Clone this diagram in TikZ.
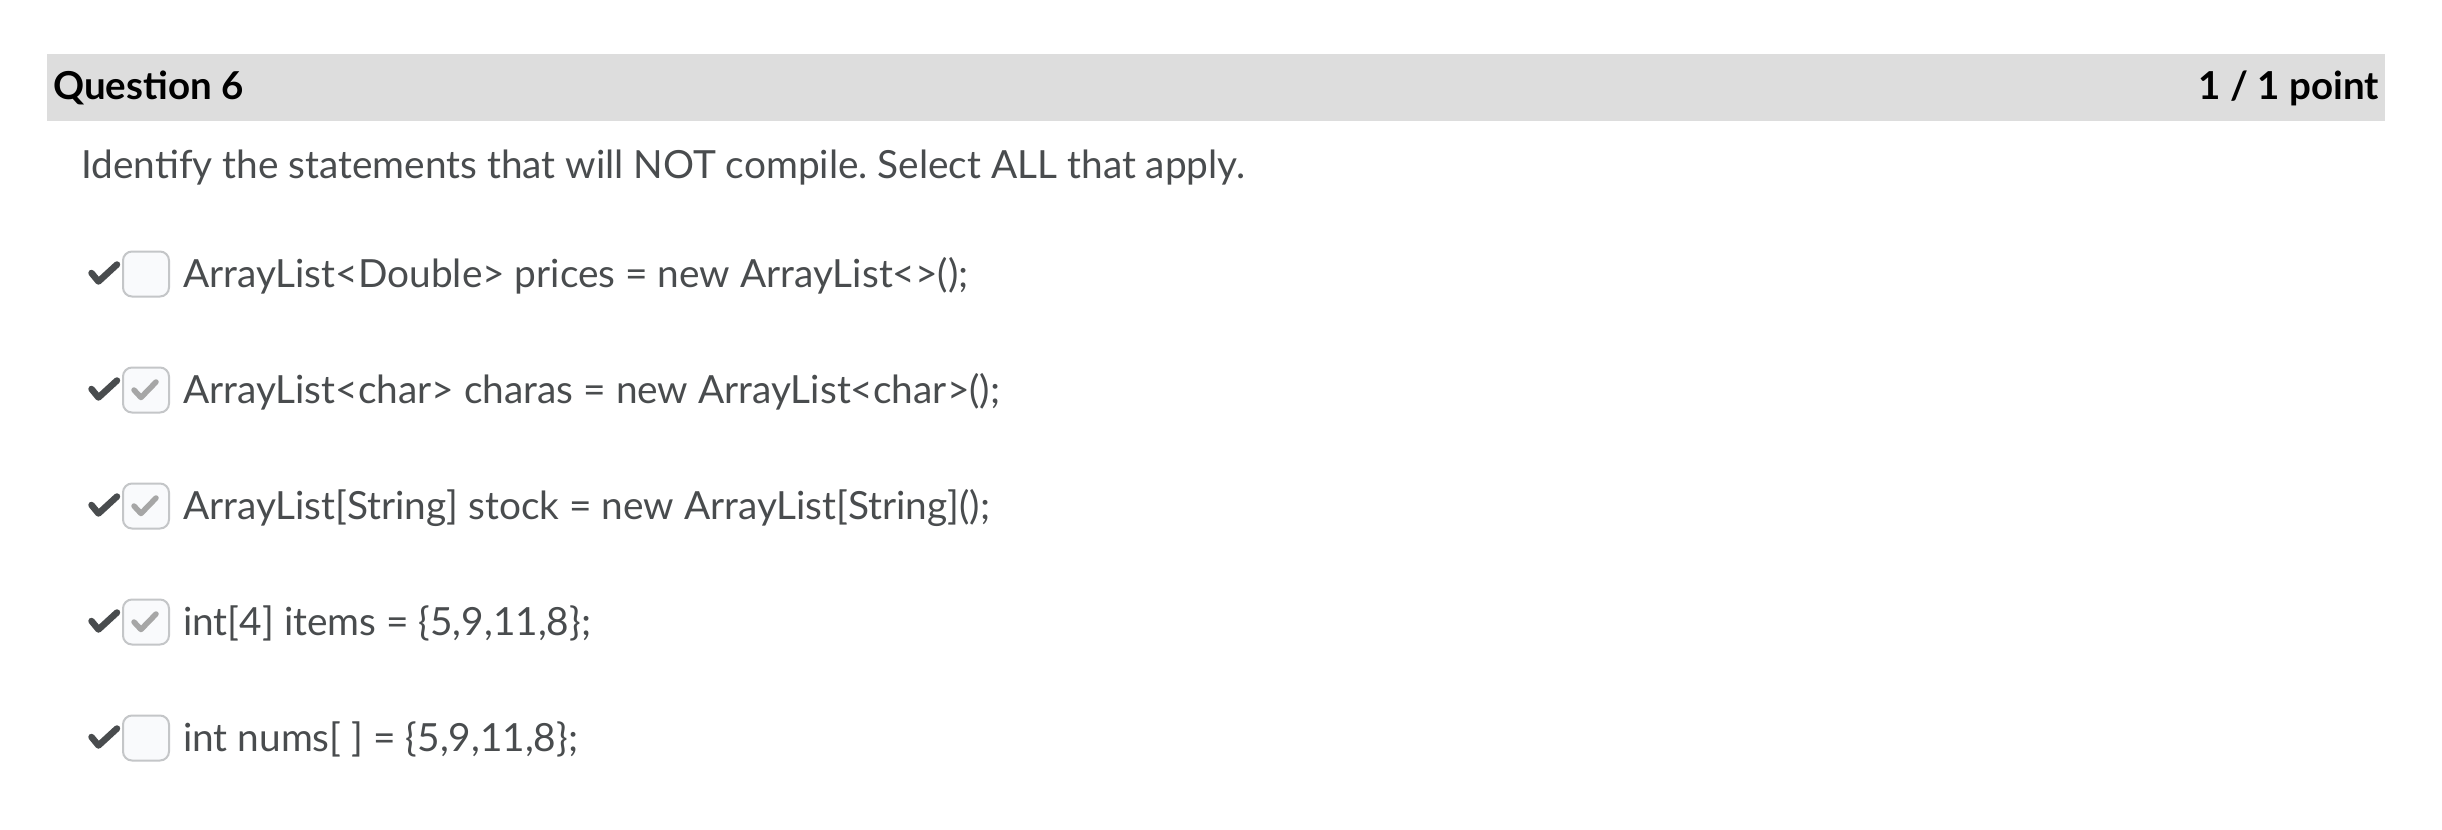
\documentclass[tikz,border=0pt]{standalone}
\usepackage{fontspec}
\setmainfont{Lato}
\frenchspacing
\definecolor{barbg}{HTML}{DDDDDD}
\definecolor{bodytxt}{HTML}{494C4E}
\definecolor{boxline}{HTML}{C4C6C8}
\definecolor{boxfill}{HTML}{F9FAFC}
\definecolor{innerchk}{HTML}{A6A6A6}
\tikzset{
  titletxt/.style={anchor=base west,inner sep=0pt,font=\fontsize{38.5}{44}\selectfont\bfseries,text=black},
  pointtxt/.style={anchor=base east,inner sep=0pt,font=\fontsize{38.5}{44}\selectfont\bfseries,text=black},
  bodystyle/.style={anchor=base west,inner sep=0pt,font=\fontsize{38.8}{44}\selectfont,text=bodytxt},
  cbox/.style={draw=boxline,fill=boxfill,line width=2pt,rounded corners=9pt,minimum width=46pt,minimum height=45pt,inner sep=0pt},
  outcheck/.style={draw=bodytxt,line width=6.5pt,line cap=round,line join=round},
  incheck/.style={draw=innerchk,line width=5.5pt,line cap=round,line join=round}
}
\begin{document}
\begin{tikzpicture}[x=1pt,y=-1pt]
\useasboundingbox (0,0) rectangle (2442,830);
\fill[white] (0,0) rectangle (2442,830);
% header bar
\node[fill=barbg,inner sep=0pt,minimum width=2338pt,minimum height=67pt,anchor=north west] (bar) at (47,54) {};
\node[titletxt] (title) at (53,99) {Question 6};
\node[pointtxt] (points) at (2379,99) {1 / 1 point};
% prompt
\node[bodystyle] (prompt) at (81,178) {Identify the statements that will NOT compile. Select ALL that apply.};
% rows
\foreach \i/\yc/\txt in {
  1/274/{ArrayList<Double> prices = new ArrayList<>();},
  2/390/{ArrayList<char> charas = new ArrayList<char>();},
  3/506/{ArrayList[String] stock = new ArrayList[String]();},
  4/622/{int[4] items = \{5,9,11,8\};},
  5/738/{int nums[\ ] = \{5,9,11,8\};}} {
  \coordinate (ca\i) at (91.5,\yc-1);
  \coordinate (cb\i) at (98.5,\yc+7.5);
  \coordinate (cc\i) at (117,\yc-9.5);
  \draw[outcheck] (ca\i) -- (cb\i) -- (cc\i);
  \node[cbox] (box\i) at (146,\yc) {};
  \node[bodystyle] (opt\i) at (183,\yc+13) {\txt};
}
\foreach \i in {2,3,4} {
  \draw[incheck] ([xshift=-12pt,yshift=0pt]box\i.center) -- ([xshift=-5pt,yshift=-7.5pt]box\i.center) -- ([xshift=10pt,yshift=8pt]box\i.center);
}
\end{tikzpicture}
\end{document}
